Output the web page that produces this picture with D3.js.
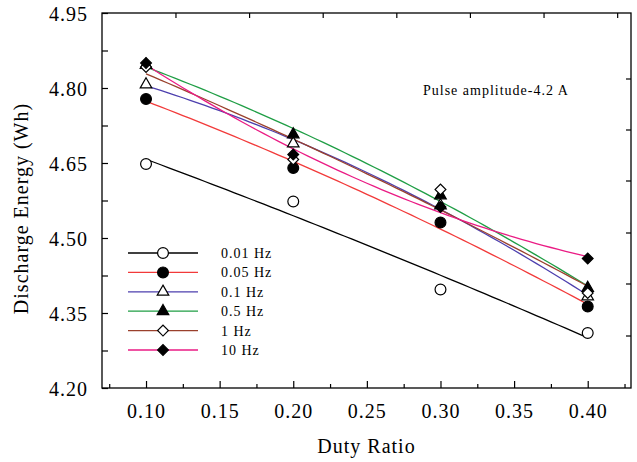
<!DOCTYPE html>
<html><head><meta charset="utf-8">
<script src="https://cdn.jsdelivr.net/npm/d3@7"></script>
<style>
body{margin:0;background:#fff}
text{font-family:"Liberation Serif","Times New Roman",serif;fill:#000}
</style>
</head><body>
<svg id="chart" width="637" height="462"></svg>
<script>
// Discharge energy vs duty ratio, one series per pulse frequency
const dutyRatios = [0.10, 0.20, 0.30, 0.40];
const frequencies = ["0.01 Hz", "0.05 Hz", "0.1 Hz", "0.5 Hz", "1 Hz", "10 Hz"];
const energy001 = [4.648, 4.573, 4.397, 4.310];
const energy005 = [4.778, 4.640, 4.531, 4.363];
const energy01  = [4.807, 4.689, 4.565, 4.383];
const energy05  = [4.846, 4.707, 4.585, 4.400];
const energy1   = [4.842, 4.657, 4.597, 4.390];
const energy10  = [4.850, 4.667, 4.562, 4.459];
const xTickLabels = [0.10, 0.15, 0.20, 0.25, 0.30, 0.35, 0.40];
const xMinorTicks = [0.075, 0.125, 0.175, 0.225, 0.275, 0.325, 0.375, 0.425];
const xTopTicks = [0.12, 0.17, 0.22, 0.27, 0.32, 0.37, 0.42];
const yTickLabels = [4.20, 4.35, 4.50, 4.65, 4.80, 4.95];
const yMinorTicks = [4.275, 4.425, 4.575, 4.725, 4.875];
const yRightTicks = [4.305, 4.409, 4.511, 4.615, 4.717, 4.819];
const noteText = "Pulse amplitude-4.2 A";

const seriesValues = [energy001, energy005, energy01, energy05, energy1, energy10];
const seriesColors = ["#000000", "#f23a3a", "#4d3fae", "#1f9e45", "#9a402c", "#ea1b84"];
const seriesShapes = ["circle", "circle", "triangle", "triangle", "diamond", "diamond"];
const seriesFilled = [false, true, false, true, false, true];

const svg = d3.select("#chart");
const plotLeft = 102, plotRight = 631, plotTop = 13, plotBottom = 388;

const x = d3.scaleLinear().domain([0.0701, 0.4294]).range([plotLeft, plotRight]);
const y = d3.scaleLinear().domain([4.20, 4.95]).range([plotBottom, plotTop]);

// frame
svg.append("rect").attr("x", plotLeft).attr("y", plotTop)
  .attr("width", plotRight - plotLeft).attr("height", plotBottom - plotTop)
  .attr("fill", "none").attr("stroke", "#000").attr("stroke-width", 1.3);

// axes with inward ticks
const gB = svg.append("g").attr("transform", `translate(0,${plotBottom})`)
  .call(d3.axisBottom(x).tickValues(xTickLabels).tickSize(-7).tickFormat(d3.format(".2f")).tickPadding(16));
const gBm = svg.append("g").attr("transform", `translate(0,${plotBottom})`)
  .call(d3.axisBottom(x).tickValues(xMinorTicks).tickSize(-4).tickFormat(""));
const gT = svg.append("g").attr("transform", `translate(0,${plotTop})`)
  .call(d3.axisTop(x).tickValues(xTopTicks).tickSize(-5).tickFormat(""));
const gL = svg.append("g").attr("transform", `translate(${plotLeft},0)`)
  .call(d3.axisLeft(y).tickValues(yTickLabels).tickSize(-6).tickFormat(d3.format(".2f")).tickPadding(14));
const gLm = svg.append("g").attr("transform", `translate(${plotLeft},0)`)
  .call(d3.axisLeft(y).tickValues(yMinorTicks).tickSize(-6).tickFormat(""));
const gR = svg.append("g").attr("transform", `translate(${plotRight},0)`)
  .call(d3.axisRight(y).tickValues(yRightTicks).tickSize(-5).tickFormat(""));

[gB, gBm, gT, gL, gLm, gR].forEach(g => {
  g.select(".domain").remove();
  g.selectAll(".tick line").attr("stroke", "#000").attr("stroke-width", 1.2);
  g.selectAll("text").style("font-family", '"Liberation Serif","Times New Roman",serif')
    .style("font-size", "20px").style("letter-spacing", "1px").attr("fill", "#000");
});
gL.selectAll("text").attr("dy", "0.35em");

// axis titles
svg.append("text").attr("x", (plotLeft + plotRight) / 2).attr("y", 453)
  .attr("text-anchor", "middle").style("font-size", "20px").style("letter-spacing", "1px")
  .text("Duty Ratio");
svg.append("text").attr("transform", `translate(28,${(plotTop + plotBottom) / 2 + 8}) rotate(-90)`)
  .attr("text-anchor", "middle").style("font-size", "20px").style("letter-spacing", "1px")
  .text("Discharge Energy (Wh)");

svg.append("text").attr("x", 423).attr("y", 95)
  .style("font-size", "14px").style("letter-spacing", "1px").text(noteText);

// second-order least-squares fit for each series
function quadFit(xs, ys) {
  const n = xs.length;
  const S = [0, 0, 0, 0, 0], T = [0, 0, 0];
  for (let i = 0; i < n; i++) {
    for (let k = 0; k < 5; k++) S[k] += Math.pow(xs[i], k);
    for (let k = 0; k < 3; k++) T[k] += ys[i] * Math.pow(xs[i], k);
  }
  const A = [[S[0], S[1], S[2], T[0]], [S[1], S[2], S[3], T[1]], [S[2], S[3], S[4], T[2]]];
  for (let c = 0; c < 3; c++) {
    for (let r = c + 1; r < 3; r++) {
      const f = A[r][c] / A[c][c];
      for (let k = c; k < 4; k++) A[r][k] -= f * A[c][k];
    }
  }
  const coef = [0, 0, 0];
  for (let r = 2; r >= 0; r--) {
    let s = A[r][3];
    for (let k = r + 1; k < 3; k++) s -= A[r][k] * coef[k];
    coef[r] = s / A[r][r];
  }
  return t => coef[0] + coef[1] * t + coef[2] * t * t;
}

const line = d3.line().x(d => x(d[0])).y(d => y(d[1]));
const fitXs = d3.range(0, 61).map(i => dutyRatios[0] + (dutyRatios[3] - dutyRatios[0]) * i / 60);

seriesValues.forEach((vals, i) => {
  const f = quadFit(dutyRatios, vals);
  svg.append("path").datum(fitXs.map(t => [t, f(t)]))
    .attr("d", line).attr("fill", "none")
    .attr("stroke", seriesColors[i]).attr("stroke-width", 1.3);
});

function markerPath(shape) {
  if (shape === "circle") return d3.symbol(d3.symbolCircle, 92)();
  if (shape === "triangle") return d3.symbol(d3.symbolTriangle, 58)();
  return d3.symbol(d3.symbolSquare, 58)();
}
function drawMarker(g, shape, filled, cx, cy) {
  g.append("path").attr("d", markerPath(shape))
    .attr("transform", `translate(${cx},${cy})` + (shape === "diamond" ? " rotate(45)" : ""))
    .attr("fill", filled ? "#000" : "#fff")
    .attr("stroke", "#000").attr("stroke-width", 1.2);
}

seriesValues.forEach((vals, i) => {
  const g = svg.append("g");
  vals.forEach((v, j) => drawMarker(g, seriesShapes[i], seriesFilled[i], x(dutyRatios[j]), y(v)));
});

// legend
const legend = svg.append("g");
frequencies.forEach((name, i) => {
  const ly = 253 + i * 19.4;
  legend.append("line").attr("x1", 128).attr("x2", 198).attr("y1", ly).attr("y2", ly)
    .attr("stroke", seriesColors[i]).attr("stroke-width", 1.3);
  drawMarker(legend, seriesShapes[i], seriesFilled[i], 163, ly);
  legend.append("text").attr("x", 221).attr("y", ly).attr("dy", "0.35em")
    .style("font-size", "14px").style("letter-spacing", "1px").text(name);
});
</script>
</body></html>
